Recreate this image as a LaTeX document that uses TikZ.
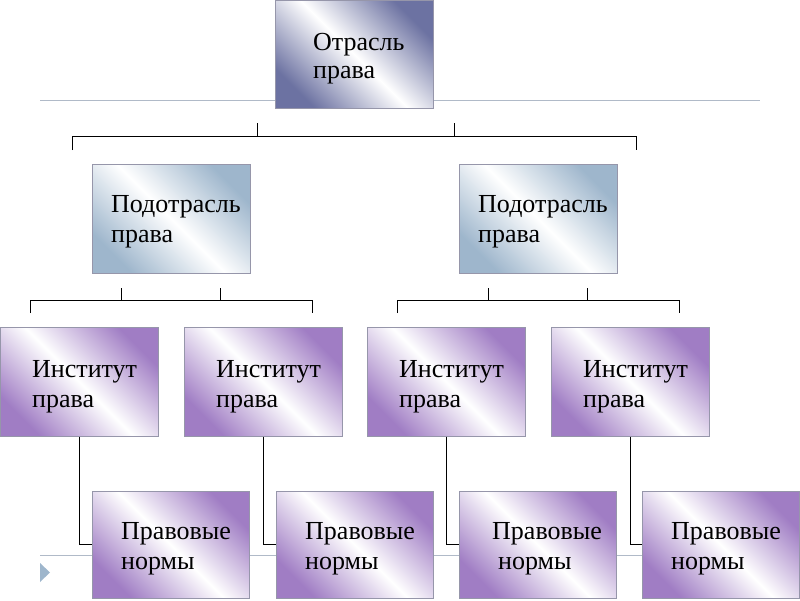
\documentclass[tikz,border=0pt]{standalone}
\usepackage{fontspec}
\setmainfont{Liberation Serif}
\definecolor{slate}{RGB}{108,114,162}
\definecolor{steel}{RGB}{158,182,204}
\definecolor{lilac}{RGB}{160,125,196}
\definecolor{rule}{RGB}{176,186,200}
\definecolor{edge}{RGB}{150,150,170}
\tikzset{
  boxbase/.style={draw=edge, line width=0.6pt, anchor=north west, inner sep=0pt,
     minimum width=158pt, minimum height=108pt},
  topbox/.style={boxbase, top color=slate, bottom color=slate, middle color=white, shading angle=-45},
  subbox/.style={boxbase, top color=steel, bottom color=steel, middle color=white, shading angle=-45},
  purbox/.style={boxbase, top color=lilac, bottom color=lilac, middle color=white, shading angle=-45},
  lbl/.style={anchor=base west, inner sep=0pt, font=\fontsize{26}{30}\selectfont, align=left},
  conn/.style={draw=black, line width=0.8pt},
  grayrule/.style={draw=rule, line width=1pt}
}
\begin{document}
\begin{tikzpicture}[x=1pt,y=-1pt]
\useasboundingbox (0,0) rectangle (800,600);
% background rules
\coordinate (r1a) at (40,100); \coordinate (r1b) at (760,100);
\coordinate (r2a) at (40,555); \coordinate (r2b) at (760,555);
\draw[grayrule] (r1a) -- (r1b);
\draw[grayrule] (r2a) -- (r2b);
\fill[steel] (40,563) -- (50,572.5) -- (40,582) -- cycle;
% top
\node[topbox, minimum height=108pt] (top) at (275,0) {};
\node[lbl, font=\fontsize{26}{28}\selectfont] (toptxt) at (313,78) {Отрасль\\права};
% sub boxes
\node[subbox, minimum height=109pt] (subL) at (92,164) {};
\node[subbox, minimum height=109pt] (subR) at (459,164) {};
\node[lbl] (subLt) at (111,242) {Подотрасль\\права};
\node[lbl] (subRt) at (478,242) {Подотрасль\\права};
% institutes
\foreach \n/\x in {1/0,2/184,3/367,4/551}{
  \node[purbox, minimum height=109pt] (inst\n) at (\x,327) {};
  \node[lbl] (inst\n t) at (\x+32,407) {Институт\\права};
}
% norms
\foreach \n/\x in {1/92,2/276,3/459,4/642}{
  \node[purbox, minimum height=107pt, minimum width=157pt] (norm\n) at (\x,491) {};
}
\node[lbl] (norm1t) at (121,569) {Правовые\\нормы};
\node[lbl] (norm2t) at (305,569) {Правовые\\нормы};
\node[lbl] (norm3t) at (492,569) {Правовые\\\hspace*{6pt}нормы};
\node[lbl] (norm4t) at (671,569) {Правовые\\нормы};
% connectors institute -> norms
\foreach \n in {1,2,3,4}{
  \draw[conn] (inst\n.south) |- (norm\n.west);
}
% top tree
\coordinate (ta) at (257,123); \coordinate (tb) at (454,123);
\coordinate (tl) at (72,136); \coordinate (tr) at (636,136);
\coordinate (tld) at (72,150); \coordinate (trd) at (636,150);
\draw[conn] (ta) -- (ta |- tl);
\draw[conn] (tb) -- (tb |- tl);
\draw[conn] (tld) -- (tl) -- (tr) -- (trd);
% left tree
\coordinate (la) at (121,288); \coordinate (lb) at (220,288);
\coordinate (ll) at (30,300); \coordinate (lr) at (312,300);
\coordinate (lld) at (30,313); \coordinate (lrd) at (312,313);
\draw[conn] (la) -- (la |- ll);
\draw[conn] (lb) -- (lb |- ll);
\draw[conn] (lld) -- (ll) -- (lr) -- (lrd);
% right tree
\coordinate (ra) at (488,288); \coordinate (rb) at (587,288);
\coordinate (rl) at (397,300); \coordinate (rr) at (679,300);
\coordinate (rld) at (397,313); \coordinate (rrd) at (679,313);
\draw[conn] (ra) -- (ra |- rl);
\draw[conn] (rb) -- (rb |- rl);
\draw[conn] (rld) -- (rl) -- (rr) -- (rrd);
\end{tikzpicture}
\end{document}
